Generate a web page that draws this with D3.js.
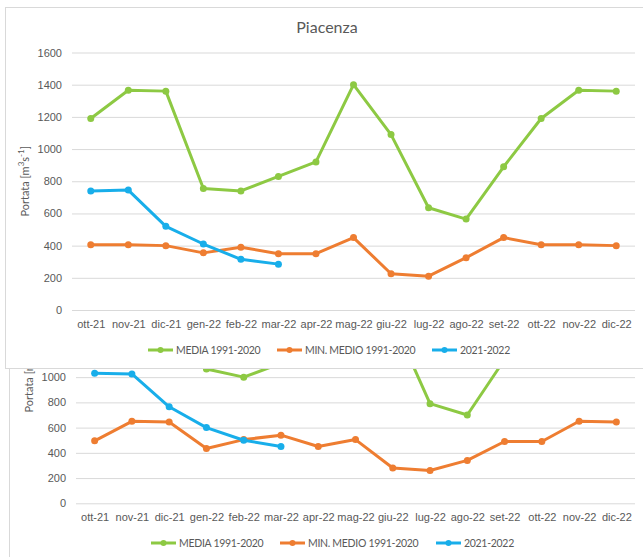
<!DOCTYPE html>
<html>
<head>
<meta charset="utf-8">
<script src="https://cdn.jsdelivr.net/npm/d3@7"></script>
<style>
  body { margin: 0; background: #fff; }
  svg { display: block; font-family: Lato, "Open Sans", sans-serif; }
</style>
</head>
<body>
<div id="painting"></div>
<script>
// months on the x axis (both charts)
var months = ["ott-21","nov-21","dic-21","gen-22","feb-22","mar-22","apr-22","mag-22",
  "giu-22","lug-22","ago-22","set-22","ott-22","nov-22","dic-22"];

// front chart: Piacenza
var topMedia   = [1190,1365,1360,755,740,830,920,1400,1090,635,565,890,1190,1365,1360];
var topMin     = [405,405,400,355,390,350,350,450,225,210,325,450,405,405,400];
var topCurrent = [740,745,520,410,315,285];
var topTicks   = [0,200,400,600,800,1000,1200,1400,1600];

// chart behind (only its lower part shows, ticks above 1000 are covered)
var backMedia   = [1500,1750,1750,1065,1000,1110,1250,1850,1450,790,700,1140,1500,1750,1750];
var backMin     = [495,650,645,435,505,540,450,505,280,260,340,490,490,650,645];
var backCurrent = [1030,1025,765,600,500,450];
var backTicks   = [0,200,400,600,800,1000];

var seriesNames = ["MEDIA 1991-2020","MIN. MEDIO 1991-2020","2021-2022"];
var colours = ["#8DC943","#EE7D31","#18AEEA"];

var W = 643, H = 557;
var svg = d3.select("#painting").append("svg")
  .attr("width", W).attr("height", H);

function drawChart(g, opt) {
  var x = d3.scalePoint().domain(months).range([opt.left, opt.right]).padding(0.5);
  var y = d3.scaleLinear().domain([0, opt.max]).range([opt.bottom, opt.top]);

  // gridlines + y labels
  var yAxis = d3.axisLeft(y).tickValues(opt.ticks).tickFormat(d3.format("d"))
    .tickSize(-(opt.right - opt.left)).tickPadding(10);
  var ya = g.append("g").attr("transform", "translate(" + opt.left + ",0)").call(yAxis);
  ya.select(".domain").remove();
  ya.selectAll("line").attr("stroke", "#D9D9D9");
  ya.selectAll("text").attr("fill", "#595959").style("font-size", "11px");

  // x labels
  var xAxis = d3.axisBottom(x).tickSize(0).tickPadding(10);
  var xa = g.append("g").attr("transform", "translate(0," + opt.bottom + ")").call(xAxis);
  xa.select(".domain").remove();
  xa.selectAll("text").attr("fill", "#595959").style("font-size", "11px");

  // axis title
  var t = g.append("text")
    .attr("transform", "translate(" + opt.titleX + "," + ((opt.top + opt.bottom) / 2) + ") rotate(-90)")
    .attr("text-anchor", "middle").attr("fill", "#595959").style("font-size", "11px")
    .text("Portata [m");
  t.append("tspan").attr("baseline-shift", "super").style("font-size", "8px").text("3");
  t.append("tspan").text("s");
  t.append("tspan").attr("baseline-shift", "super").style("font-size", "8px").text("-1");
  t.append("tspan").text("]");

  var line = d3.line()
    .x(function(d, i) { return x(months[i]); })
    .y(function(d) { return y(d); });

  opt.series.forEach(function(s, k) {
    g.append("path").datum(s)
      .attr("d", line)
      .attr("fill", "none")
      .attr("stroke", colours[k])
      .attr("stroke-width", 3)
      .attr("stroke-linejoin", "round");
    g.selectAll(".dot" + k).data(s).enter().append("circle")
      .attr("cx", function(d, i) { return x(months[i]); })
      .attr("cy", function(d) { return y(d); })
      .attr("r", 3.5)
      .attr("fill", colours[k]);
  });

  // legend
  var lg = g.append("g").attr("transform", "translate(0," + opt.legendY + ")");
  var lx = opt.legendX;
  seriesNames.forEach(function(name, k) {
    lg.append("line").attr("x1", lx[k]).attr("x2", lx[k] + 25)
      .attr("stroke", colours[k]).attr("stroke-width", 3);
    lg.append("circle").attr("cx", lx[k] + 12.5).attr("r", 3).attr("fill", colours[k]);
    lg.append("text").attr("x", lx[k] + 28).attr("dy", "0.35em")
      .attr("fill", "#595959").style("font-size", "10.5px").style("letter-spacing", "-0.3px")
      .text(name);
  });
}

// chart behind
var back = svg.append("g");
back.append("rect").attr("x", 9.5).attr("y", 200.5).attr("width", 660).attr("height", 400)
  .attr("fill", "#fff").attr("stroke", "#D9D9D9");
drawChart(back, {
  left: 76, right: 635, top: 251, bottom: 503.3, max: 2000, ticks: backTicks,
  series: [backMedia, backMin, backCurrent], titleX: 33, legendY: 543, legendX: [151, 280, 436]
});

// front panel
var front = svg.append("g");
front.append("rect").attr("x", 5.5).attr("y", 7.5).attr("width", 660).attr("height", 361)
  .attr("fill", "#fff").attr("stroke", "#D9D9D9");
front.append("text").attr("x", 327).attr("y", 27).attr("dy", "0.35em")
  .attr("text-anchor", "middle").attr("fill", "#595959").style("font-size", "16px")
  .text("Piacenza");
drawChart(front, {
  left: 72, right: 635, top: 52.5, bottom: 310, max: 1600, ticks: topTicks,
  series: [topMedia, topMin, topCurrent], titleX: 29, legendY: 350, legendX: [148, 277, 432]
});
</script>
</body>
</html>
